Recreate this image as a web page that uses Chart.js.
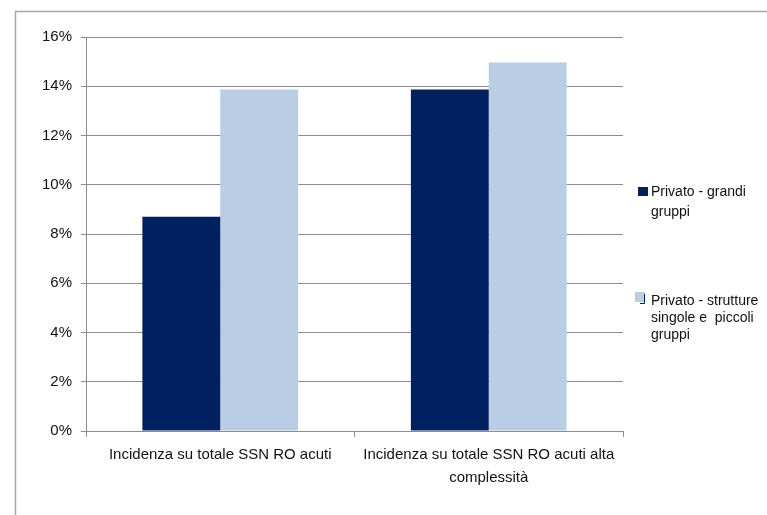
<!DOCTYPE html>
<html>
<head>
<meta charset="utf-8">
<script src="https://cdn.jsdelivr.net/npm/chart.js@4/dist/chart.umd.min.js"></script>
<style>
  body { margin: 0; background: #fff; }
  canvas { display: block; }
</style>
</head>
<body>
<canvas id="incidenza-chart" width="767" height="515"></canvas>
<script>
// =======================
// Data
// =======================
const categories = [
    "Incidenza su totale SSN RO acuti",
    ["Incidenza su totale SSN RO acuti alta", "complessità"]
];
const seriesNames = [
    "Privato - grandi gruppi",
    "Privato - strutture singole e piccoli gruppi"
];
const legendLines = [
    ["Privato - grandi", "gruppi"],
    ["Privato - strutture", "singole e  piccoli", "gruppi"]
];
const grandiGruppi = [8.7, 13.87];
const struttureSingole = [13.87, 14.96];
const yTicks = [0, 2, 4, 6, 8, 10, 12, 14, 16];

const FONT = "'Liberation Sans', Arial, sans-serif";
const colDark = '#002060';
const colLight = '#b9cde5';
const gridGray = '#8c8c8c';

// =======================
// Outer frame
// =======================
const framePlugin = {
    id: 'frame',
    beforeDraw(chart) {
        const ctx = chart.ctx;
        ctx.save();
        ctx.strokeStyle = '#a6a6a6';
        ctx.lineWidth = 1.5;
        ctx.strokeRect(15.5, 11.5, 800, 600);
        ctx.restore();
    }
};

// =======================
// Legend on the right, wrapped text
// =======================
const sideLegend = {
    id: 'sideLegend',
    afterDraw(chart) {
        const ctx = chart.ctx;
        const items = [
            { box: [638, 187, 10, 9], textY: 192, step: 20 },
            { box: [635, 292, 10, 10], textY: 301, step: 17 }
        ];
        ctx.save();
        ctx.font = '14px ' + FONT;
        ctx.textBaseline = 'middle';
        chart.data.datasets.forEach((ds, i) => {
            const it = items[i];
            ctx.fillStyle = ds.backgroundColor;
            ctx.fillRect(...it.box);
            if (i === 1) {
                // small dark edge at the corner of the light swatch
                ctx.strokeStyle = colDark;
                ctx.lineWidth = 1;
                ctx.beginPath();
                ctx.moveTo(644.5, 294);
                ctx.lineTo(644.5, 303.5);
                ctx.lineTo(640, 303.5);
                ctx.stroke();
            }
            ctx.fillStyle = '#111';
            legendLines[i].forEach((line, k) => {
                ctx.fillText(line, 651, it.textY + k * it.step);
            });
        });
        ctx.restore();
    }
};

// =======================
// The Bar Graph
// =======================
const canvas = document.querySelector('#incidenza-chart');
const chartData = {
    labels: categories,
    datasets: [{
        label: seriesNames[0],
        data: grandiGruppi,
        backgroundColor: colDark,
        borderWidth: 0
    }, {
        label: seriesNames[1],
        data: struttureSingole,
        backgroundColor: colLight,
        borderWidth: 0
    }]
};
const chartOptions = {
    responsive: false,
    animation: false,
    layout: {
        padding: { top: 37, right: 144, left: 0, bottom: 0 }
    },
    datasets: {
        bar: {
            categoryPercentage: 0.58,
            barPercentage: 1
        }
    },
    scales: {
        x: {
            afterFit(scale) { scale.height = 84; },
            grid: {
                offset: true,
                drawOnChartArea: false,
                drawTicks: true,
                tickLength: 6,
                color: gridGray
            },
            border: { color: gridGray },
            ticks: {
                color: '#111',
                padding: 7,
                maxRotation: 0,
                autoSkip: false,
                font: { family: FONT, size: 15, lineHeight: 1.5 }
            }
        },
        y: {
            min: 0,
            max: 16,
            afterFit(scale) { scale.width = 86; },
            afterBuildTicks(scale) {
                scale.ticks = yTicks.map(v => ({ value: v }));
            },
            grid: {
                color: gridGray,
                tickLength: 5
            },
            border: { color: gridGray },
            ticks: {
                color: '#111',
                padding: 9,
                font: { family: FONT, size: 15 },
                callback: v => v + '%'
            }
        }
    },
    plugins: {
        legend: { display: false },
        tooltip: { enabled: false }
    }
};
let barChart = new Chart(canvas, {
    type: 'bar',
    data: chartData,
    options: chartOptions,
    plugins: [framePlugin, sideLegend]
});
</script>
</body>
</html>
